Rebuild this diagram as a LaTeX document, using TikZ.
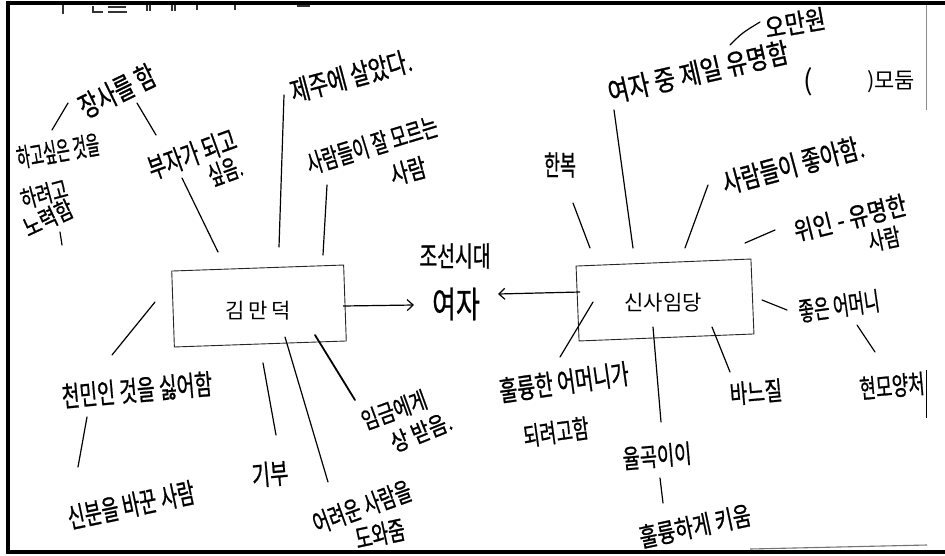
\documentclass[tikz,border=0pt]{standalone}
\usepackage{fontspec}
\usepackage{graphicx}
\newfontfamily\kr{Noto Sans CJK KR}
\newfontfamily\krh[FakeBold=1.0]{Noto Sans CJK KR}
\usetikzlibrary{arrows.meta}
\newcommand{\hwtxt}[3]{\rotatebox{#1}{\scalebox{#2}[1]{#3}}}
\tikzset{
  hw/.style={font=\krh\fontsize{#1}{#1}\selectfont, inner sep=0pt, text=black},
  prt/.style={font=\kr\fontsize{#1}{#1}\selectfont, inner sep=0pt, text=black},
  hl/.style={line width=1.2pt, line cap=round, black},
  hlthick/.style={line width=1.8pt, line cap=round, black},
  frame/.style={line width=3.5pt, black},
  frag/.style={line width=1.3pt, black!80},
  box/.style={draw=black!85, line width=0.9pt, fill=none},
  arr/.style={line width=1.2pt, -{Straight Barb[length=6pt,width=11pt,line width=1.2pt]}}
}
\begin{document}
\begin{tikzpicture}[x=1pt,y=-1pt]
\useasboundingbox (0,0) rectangle (945,555);
\fill[white] (0,0) rectangle (945,555);

% frame
\coordinate (fTL) at (8,3);
\coordinate (fTR) at (945,3);
\coordinate (fBL) at (8,552);
\coordinate (fBR) at (945,552);
\draw[frame] (fTR) -- (fTL) -- (fBL) -- (fBR);
\coordinate (g1a) at (926,5);  \coordinate (g1b) at (926,110);
\draw[line width=0.8pt, black!45] (g1a) -- (g1b);
\coordinate (g2a) at (926,370); \coordinate (g2b) at (926,418);
\draw[line width=1pt, black] (g2a) -- (g2b);
\coordinate (g3a) at (750,549); \coordinate (g3b) at (927,545);
\draw[line width=1.1pt, black!55] (g3a) -- (g3b);

% clipped text fragments at the top edge
\coordinate (q1) at (63,5);   \coordinate (q2) at (63,14);
\draw[frag] (q1) -- (q2);
\coordinate (q3) at (93,6);   \coordinate (q4) at (93,12);  \coordinate (q5) at (103,12);
\draw[frag] (q3) -- (q4) -- (q5);
\coordinate (q6) at (108,7);  \coordinate (q7) at (126,7);
\coordinate (q8) at (108,12); \coordinate (q9) at (127,12);
\draw[frag] (q6) -- (q7) (q8) -- (q9);
\coordinate (q10) at (147,5); \coordinate (q11) at (147,11);
\coordinate (q12) at (150,5); \coordinate (q13) at (150,11);
\coordinate (q14) at (172,5); \coordinate (q15) at (172,11);
\coordinate (q16) at (175,5); \coordinate (q17) at (175,11);
\draw[frag] (q10) -- (q11) (q12) -- (q13) (q14) -- (q15) (q16) -- (q17);
\coordinate (q18) at (197,5); \coordinate (q19) at (197,10);
\coordinate (q20) at (235,5); \coordinate (q21) at (235,10);
\draw[frag] (q18) -- (q19) (q20) -- (q21);
\coordinate (q22) at (297,6); \coordinate (q23) at (310,6);
\draw[frag] (q22) -- (q23);

% central boxes
\node[box, minimum width=172pt, minimum height=76pt, rotate=2] (kim) at (259,306) {};
\node[prt=21] (kimt) at (258,311) {김\,만\,덕};
\node[box, minimum width=175pt, minimum height=75pt, rotate=2.3] (sin) at (665,300) {};
\node[prt=21] (sint) at (663,303) {신사임당};

% centre words
\node[hw=28] (joseon) at (455,256) {\hwtxt{0}{0.69}{조선시대}};
\node[hw=36] (yeoja) at (456,304) {\hwtxt{0}{0.72}{여자}};
\coordinate (a1s) at (343,306); \coordinate (a1e) at (414,305);
\draw[arr] (a1s) -- (a1e);
\coordinate (a2s) at (580,292); \coordinate (a2e) at (498,294);
\draw[arr] (a2s) -- (a2e);

% ---------- left (김만덕) ----------
\node[hw=29] (t1) at (117,91) {\hwtxt{26}{0.72}{장사를 함}};
\node[hw=26] (t2) at (58,151) {\hwtxt{10}{0.56}{하고싶은 것을}};
\node[hw=24] (t3) at (44,194) {\hwtxt{15}{0.72}{하려고}};
\node[hw=24] (t4) at (48,218) {\hwtxt{25}{0.79}{노력함}};
\node[hw=28] (t5) at (192,154) {\hwtxt{20}{0.68}{부자가 되고}};
\node[hw=26] (t6) at (225,171) {\hwtxt{20}{0.63}{싶음.}};
\node[hw=28] (t7) at (351,76) {\hwtxt{15}{0.74}{제주에 살았다.}};
\node[hw=26] (t8) at (372,145) {\hwtxt{17}{0.67}{사람들이 잘 모르는}};
\node[hw=26] (t9) at (408,171) {\hwtxt{15}{0.76}{사람}};
\node[hw=28] (t10) at (137,390) {\hwtxt{5}{0.69}{천민인 것을 싫어함}};
\node[hw=28] (t11) at (131,505) {\hwtxt{12}{0.67}{신분을 바꾼 사람}};
\node[hw=28] (t12) at (270,474) {\hwtxt{5}{0.71}{기부}};
\node[hw=26] (t13) at (362,507) {\hwtxt{20}{0.69}{어려운 사람을}};
\node[hw=26] (t14) at (380,534) {\hwtxt{12}{0.70}{도와줌}};
\node[hw=24] (t15) at (394,410) {\hwtxt{20}{0.77}{임금에게}};
\node[hw=24] (t16) at (421,432) {\hwtxt{22}{0.82}{상 받음.}};

\coordinate (l1a) at (52,130);  \coordinate (l1b) at (68,103);
\coordinate (l2a) at (137,103); \coordinate (l2b) at (156,135);
\coordinate (l3a) at (60,232);  \coordinate (l3b) at (62,245);
\coordinate (l4a) at (182,178); \coordinate (l4b) at (218,252);
\coordinate (l5a) at (284,95);  \coordinate (l5b) at (279,247);
\coordinate (l6a) at (327,185); \coordinate (l6b) at (323,255);
\coordinate (l7a) at (155,302); \coordinate (l7b) at (112,355);
\coordinate (l8a) at (87,417);  \coordinate (l8b) at (78,467);
\coordinate (l9a) at (263,363); \coordinate (l9b) at (276,435);
\coordinate (l10a) at (285,337); \coordinate (l10b) at (328,482);
\coordinate (l11a) at (315,335); \coordinate (l11b) at (355,400);
\draw[hl] (l1a) -- (l1b);
\draw[hl] (l2a) -- (l2b);
\draw[hl] (l3a) -- (l3b);
\draw[hl] (l4a) -- (l4b);
\draw[hl] (l5a) -- (l5b);
\draw[hl] (l6a) -- (l6b);
\draw[hl] (l7a) -- (l7b);
\draw[hl] (l8a) -- (l8b);
\draw[hl] (l9a) -- (l9b);
\draw[hl] (l10a) -- (l10b);
\draw[hlthick] (l11a) -- (l11b);

% ---------- right (신사임당) ----------
\node[hw=26] (r1) at (795,23) {\hwtxt{10}{0.85}{오만원}};
\node[hw=28] (r2) at (698,72) {\hwtxt{13}{0.82}{여자 중 제일 유명함}};
\node[prt=28] (r3a) at (808,82) {(};
\node[prt=22] (r3b) at (891,82) {)모둠};
\node[hw=28] (r4) at (560,165) {\hwtxt{0}{0.62}{한복}};
\node[hw=28] (r5) at (793,165) {\hwtxt{15}{0.75}{사람들이 좋아함.}};
\node[hw=26] (r6) at (850,218) {\hwtxt{14}{0.82}{위인 - 유명한}};
\node[hw=24] (r7) at (884,239) {\hwtxt{12}{0.73}{사람}};
\node[hw=28] (r8) at (564,382) {\hwtxt{8}{0.70}{훌륭한 어머니가}};
\node[hw=26] (r9) at (556,432) {\hwtxt{8}{0.69}{되려고함}};
\node[hw=26] (r10) at (657,456) {\hwtxt{5}{0.72}{율곡이이}};
\node[hw=26] (r11) at (695,526) {\hwtxt{12}{0.76}{훌륭하게 키움}};
\node[hw=26] (r12) at (756,392) {\hwtxt{5}{0.73}{바느질}};
\node[hw=26] (r13) at (839,306) {\hwtxt{8}{0.65}{좋은 어머니}};
\node[hw=26] (r14) at (892,386) {\hwtxt{5}{0.68}{현모양처}};

\coordinate (m1a) at (730,45);  \coordinate (m1b) at (760,22);
\coordinate (m2a) at (614,110); \coordinate (m2b) at (633,248);
\coordinate (m3a) at (573,203); \coordinate (m3b) at (590,248);
\coordinate (m4a) at (708,185); \coordinate (m4b) at (685,248);
\coordinate (m5a) at (745,243); \coordinate (m5b) at (775,230);
\coordinate (m6a) at (593,302); \coordinate (m6b) at (560,357);
\coordinate (m7a) at (653,327); \coordinate (m7b) at (661,422);
\coordinate (m8a) at (660,478); \coordinate (m8b) at (663,503);
\coordinate (m9a) at (712,327); \coordinate (m9b) at (730,372);
\coordinate (m10a) at (762,300); \coordinate (m10b) at (787,310);
\coordinate (m11a) at (857,325); \coordinate (m11b) at (875,352);
\draw[hl] (m1a) .. controls (742,33) .. (m1b);
\draw[hl] (m2a) -- (m2b);
\draw[hl] (m3a) -- (m3b);
\draw[hl] (m4a) -- (m4b);
\draw[hl] (m5a) -- (m5b);
\draw[hl] (m6a) -- (m6b);
\draw[hl] (m7a) -- (m7b);
\draw[hl] (m8a) -- (m8b);
\draw[hl] (m9a) -- (m9b);
\draw[hl] (m10a) -- (m10b);
\draw[hl] (m11a) -- (m11b);
\end{tikzpicture}
\end{document}
